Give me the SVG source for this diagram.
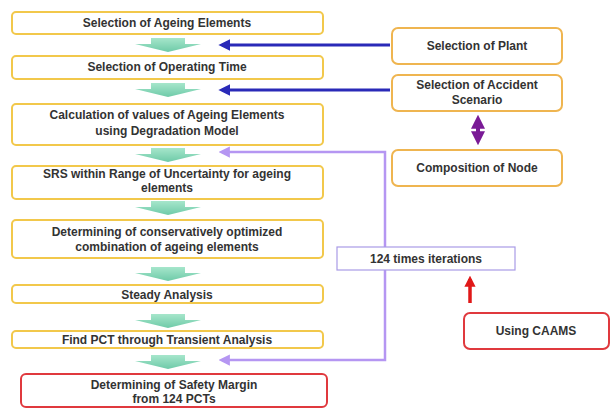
<svg xmlns="http://www.w3.org/2000/svg" width="612" height="410" viewBox="0 0 612 410">
<style>
.box{fill:#fff;stroke:#f2c84b;stroke-width:2}
.rbox{fill:#fff;stroke:#efb550;stroke-width:2}
.red{fill:#fff;stroke:#e0393e;stroke-width:2}
.it{fill:#fff;stroke:#a99be6;stroke-width:1.2}
text{font-family:"Liberation Sans",Arial,sans-serif;font-weight:bold;font-size:12px;fill:#333;text-anchor:middle}
.flow{fill:url(#tg)}
.blue{stroke:#2a2ab8;stroke-width:3;fill:none}
.lav{stroke:#b596f2;stroke-width:2.5;fill:none}
</style>
<defs>
<linearGradient id="tg" x1="0" y1="0" x2="0" y2="1">
<stop offset="0" stop-color="#a6e6cb"/>
<stop offset="1" stop-color="#6ecaa8"/>
</linearGradient>
<marker id="ab" viewBox="0 0 10 10" refX="7" refY="5" markerWidth="4" markerHeight="4" orient="auto-start-reverse"><path d="M0,0 L10,5 L0,10 z" fill="#2a2ab8"/></marker>
<marker id="al" viewBox="0 0 10 10" refX="7" refY="5" markerWidth="4.5" markerHeight="4.5" orient="auto-start-reverse"><path d="M0,0 L10,5 L0,10 z" fill="#b596f2"/></marker>
<marker id="ar" viewBox="0 0 10 10" refX="7" refY="5" markerWidth="3.2" markerHeight="3.2" orient="auto-start-reverse"><path d="M0,0 L10,5 L0,10 z" fill="#e01818"/></marker>
<marker id="ap" viewBox="0 0 10 10" refX="7" refY="5" markerWidth="3.5" markerHeight="3.5" orient="auto-start-reverse"><path d="M0,0 L10,5 L0,10 z" fill="#7a1a96"/></marker>
<symbol id="down" viewBox="0 0 66 14" overflow="visible"><path d="M16,0 H50 V6 H66 L33,14 L0,6 H16 Z"/></symbol>
</defs>

<g id="connectors">
<g class="flow">
<use href="#down" x="135" y="38" width="66" height="14"/>
<use href="#down" x="135" y="83" width="66" height="14"/>
<use href="#down" x="135" y="148" width="66" height="14"/>
<use href="#down" x="135" y="201" width="66" height="14"/>
<use href="#down" x="135" y="267" width="66" height="14"/>
<use href="#down" x="135" y="314" width="66" height="14"/>
<use href="#down" x="135" y="355" width="66" height="14"/>
</g>
<path class="blue" d="M390,45 H222" marker-end="url(#ab)"/>
<path class="blue" d="M390,90 H222" marker-end="url(#ab)"/>
<path class="lav" d="M222,152 H385 V360 H222" marker-start="url(#al)" marker-end="url(#al)"/>
<path d="M478,119 V141" stroke="#7a1a96" stroke-width="4" fill="none" marker-start="url(#ap)" marker-end="url(#ap)"/>
<path d="M470,303 V279" stroke="#e01818" stroke-width="3.5" fill="none" marker-end="url(#ar)"/>
</g>

<g id="n1"><rect class="box" x="12" y="12" width="311" height="22" rx="4"/><text x="167" y="27">Selection of Ageing Elements</text></g>
<g id="n2"><rect class="box" x="12" y="56" width="311" height="23" rx="4"/><text x="167" y="71">Selection of Operating Time</text></g>
<g id="n3"><rect class="box" x="12" y="104" width="311" height="41" rx="4"/><text x="167" y="119">Calculation of values of Ageing Elements</text><text x="167" y="135">using Degradation Model</text></g>
<g id="n4"><rect class="box" x="12" y="166" width="311" height="33" rx="4"/><text x="167" y="178">SRS within Range of Uncertainty for ageing</text><text x="167" y="192">elements</text></g>
<g id="n5"><rect class="box" x="12" y="220" width="311" height="38" rx="4"/><text x="167" y="236">Determining of conservatively optimized</text><text x="167" y="251">combination of ageing elements</text></g>
<g id="n6"><rect class="box" x="12" y="285" width="311" height="18" rx="4"/><text x="167" y="299">Steady Analysis</text></g>
<g id="n7"><rect class="box" x="12" y="331" width="311" height="17" rx="4"/><text x="167" y="344">Find PCT through Transient Analysis</text></g>
<g id="n8"><rect class="red" x="21" y="374" width="306" height="33" rx="5"/><text x="174" y="389">Determining of Safety Margin</text><text x="174" y="403">from 124 PCTs</text></g>

<g id="plant"><rect class="rbox" x="392" y="28" width="170" height="36" rx="6"/><text x="477" y="50">Selection of Plant</text></g>
<g id="accident"><rect class="rbox" x="392" y="75" width="170" height="36" rx="6"/><text x="477" y="89">Selection of Accident</text><text x="477" y="104">Scenario</text></g>
<g id="node"><rect class="rbox" x="392" y="150" width="170" height="36" rx="6"/><text x="477" y="172">Composition of Node</text></g>
<g id="iter"><rect class="it" x="337" y="247" width="178" height="23"/><text x="426" y="263">124 times iterations</text></g>
<g id="caams"><rect class="red" x="464" y="313" width="145" height="36" rx="6"/><text x="536" y="335">Using CAAMS</text></g>
</svg>
